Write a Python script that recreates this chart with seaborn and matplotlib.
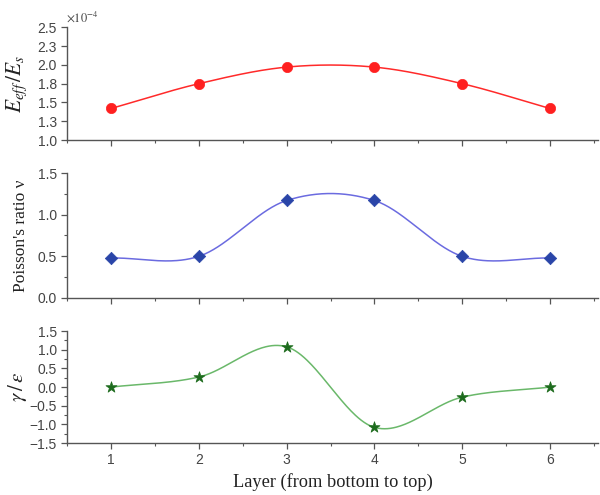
import numpy as np
import pandas as pd
import matplotlib
matplotlib.use("Agg")
import matplotlib.pyplot as plt
from matplotlib.ticker import MultipleLocator, FixedLocator
import seaborn as sns

layers = [1, 2, 3, 4, 5, 6]
e_ratio = [1.42, 1.75, 1.97, 1.97, 1.75, 1.42]      # x 1e-4
poisson = [0.48, 0.50, 1.17, 1.17, 0.50, 0.48]
gamma_eps = [0.00, 0.27, 1.08, -1.08, -0.27, 0.00]
e_ticks = [1.0, 1.25, 1.5, 1.75, 2.0, 2.25, 2.5]
e_tick_labels = ["1.0", "1.3", "1.5", "1.8", "2.0", "2.3", "2.5"]
x_ticks = [1, 2, 3, 4, 5, 6]

sns.set_style("ticks")
plt.rcParams["font.family"] = ["Liberation Sans", "DejaVu Sans"]
plt.rcParams["mathtext.fontset"] = "stix"


def smooth_curve(x, y, n=60):
    """Cardinal (Catmull-Rom) spline through the data points."""
    x = np.asarray(x, float)
    y = np.asarray(y, float)
    m = len(x)
    tang = np.zeros(m)
    tang[0] = (y[1] - y[0]) / (x[1] - x[0])
    tang[-1] = (y[-1] - y[-2]) / (x[-1] - x[-2])
    for i in range(1, m - 1):
        tang[i] = (y[i + 1] - y[i - 1]) / (x[i + 1] - x[i - 1])
    xs_all, ys_all = [], []
    for i in range(m - 1):
        h = x[i + 1] - x[i]
        t = np.linspace(0, 1, n, endpoint=(i == m - 2))
        h00 = 2 * t**3 - 3 * t**2 + 1
        h10 = t**3 - 2 * t**2 + t
        h01 = -2 * t**3 + 3 * t**2
        h11 = t**3 - t**2
        xs_all.append(x[i] + t * h)
        ys_all.append(h00 * y[i] + h10 * h * tang[i] + h01 * y[i + 1] + h11 * h * tang[i + 1])
    return np.concatenate(xs_all), np.concatenate(ys_all)


fig = plt.figure(figsize=(6, 4.95), dpi=100)
ax1 = fig.add_axes([0.112, 0.717, 0.885, 0.228])
ax2 = fig.add_axes([0.112, 0.398, 0.885, 0.2525])
ax3 = fig.add_axes([0.112, 0.105, 0.885, 0.226])

spine_col = "#555555"
lab_col = "#444444"

specs = [
    (ax1, e_ratio, "#ff2a2a", "#ff2020", "o", 55),
    (ax2, poisson, "#6b6be0", "#2a45a8", "D", 40),
    (ax3, gamma_eps, "#6ab86a", "#1d6b1d", "*", 70),
]
for ax, vals, lc, mc, mk, ms in specs:
    xs, ys = smooth_curve(layers, vals)
    sns.lineplot(x=xs, y=ys, ax=ax, color=lc, lw=1.1, sort=False)
    sns.scatterplot(x=layers, y=vals, ax=ax, color=mc, marker=mk, s=ms,
                    edgecolor=mc, linewidth=0.5, zorder=5)
    ax.set_xlim(0.5, 6.55)
    ax.xaxis.set_major_locator(FixedLocator(x_ticks))
    ax.xaxis.set_minor_locator(MultipleLocator(0.5))
    for s in ["top", "right"]:
        ax.spines[s].set_visible(False)
    for s in ["left", "bottom"]:
        ax.spines[s].set_color(spine_col)
        ax.spines[s].set_linewidth(1.0)
    ax.tick_params(which="major", direction="out", length=4, width=0.9,
                   color=spine_col, labelcolor=lab_col, labelsize=10)
    ax.tick_params(which="minor", direction="out", length=2.5, width=0.8,
                   color=spine_col)

ax1.set_ylim(1.0, 2.5)
ax1.set_yticks(e_ticks)
ax1.set_yticklabels(e_tick_labels)
ax1.tick_params(labelbottom=False)
ax1.text(-0.003, 1.02, r"$\times10^{-4}$", transform=ax1.transAxes, fontsize=9,
         color=lab_col, ha="left", va="bottom")
ax1.set_ylabel(r"$E_{eff}\,/E_s$", fontsize=15.5, color="#222222")

ax2.set_ylim(0, 1.5)
ax2.yaxis.set_major_locator(MultipleLocator(0.5))
ax2.yaxis.set_minor_locator(MultipleLocator(0.25))
ax2.tick_params(labelbottom=False)
ax2.set_ylabel("Poisson's ratio ν", fontsize=12.5, color="#222222",
               family=["Liberation Serif", "DejaVu Serif"])

ax3.set_ylim(-1.5, 1.5)
ax3.yaxis.set_major_locator(MultipleLocator(0.5))
ax3.yaxis.set_minor_locator(MultipleLocator(0.25))
ax3.set_ylabel(r"$\gamma\,/\,\varepsilon$", fontsize=15, color="#222222")
ax3.set_xlabel("Layer (from bottom to top)", fontsize=13.2, color="#222222",
               family=["Liberation Serif", "DejaVu Serif"])

for ax in (ax1, ax2, ax3):
    ax.yaxis.set_label_coords(-0.072, 0.5)

fig.savefig("out.png", dpi=100)
